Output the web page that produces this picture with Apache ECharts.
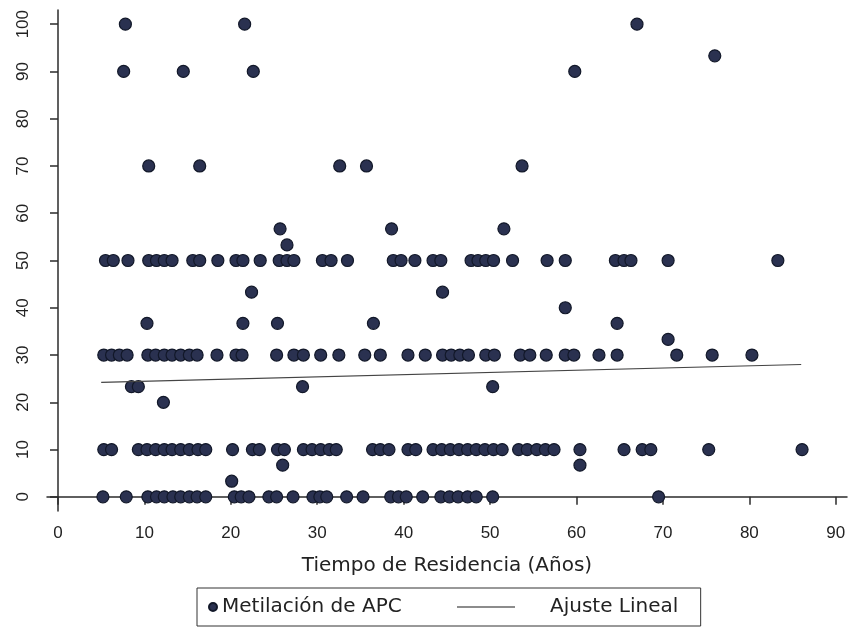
<!DOCTYPE html>
<html><head><meta charset="utf-8">
<script src="https://cdn.jsdelivr.net/npm/echarts@6/dist/echarts.min.js"></script>
<style>html,body{margin:0;padding:0;background:#fff}#c{width:849px;height:633px}</style>
</head><body><div id="c"></div>
<script>
// Tick labels
const xTicks = [0, 10, 20, 30, 40, 50, 60, 70, 80, 90];
const yTicks = [0, 10, 20, 30, 40, 50, 60, 70, 80, 90, 100];

// Metilación de APC levels (%) and the residence times (years) observed at each
const nivel_0 = [5.2, 7.9, 10.4, 11.4, 12.3, 13.3, 14.2, 15.2, 16.1, 17.1, 20.4, 21.2, 22.1, 24.4, 25.3, 27.2, 29.5, 30.3, 31.1, 33.4, 35.3, 38.5, 39.4, 40.3, 42.2, 44.3, 45.3, 46.3, 47.4, 48.4, 50.3, 69.5];
const nivel_3 = [20.1];
const nivel_7 = [26.0, 60.4];
const nivel_10 = [5.3, 6.2, 9.3, 10.3, 11.3, 12.3, 13.2, 14.2, 15.2, 16.2, 17.1, 20.2, 22.5, 23.3, 25.4, 26.2, 28.4, 29.4, 30.4, 31.4, 32.2, 36.4, 37.3, 38.3, 40.5, 41.4, 43.4, 44.4, 45.4, 46.4, 47.4, 48.4, 49.4, 50.4, 51.4, 53.3, 54.3, 55.4, 56.4, 57.4, 60.4, 65.5, 67.6, 68.6, 75.3, 86.1];
const nivel_20 = [12.2];
const nivel_23 = [8.5, 9.3, 28.3, 50.3];
const nivel_30 = [5.3, 6.2, 7.1, 8.0, 10.4, 11.3, 12.3, 13.2, 14.2, 15.2, 16.1, 18.4, 20.6, 21.3, 25.3, 27.3, 28.4, 30.4, 32.5, 35.5, 37.3, 40.5, 42.5, 44.5, 45.5, 46.5, 47.5, 49.5, 50.5, 53.5, 54.6, 56.5, 58.7, 59.7, 62.6, 64.7, 71.6, 75.7, 80.3];
const nivel_33 = [70.6];
const nivel_37 = [10.3, 21.4, 25.4, 36.5, 64.7];
const nivel_40 = [58.7];
const nivel_43 = [22.4, 44.5];
const nivel_50 = [5.5, 6.4, 8.1, 10.5, 11.4, 12.3, 13.2, 15.6, 16.4, 18.5, 20.6, 21.4, 23.4, 25.6, 26.5, 27.3, 30.6, 31.6, 33.5, 38.8, 39.7, 41.3, 43.4, 44.3, 47.8, 48.6, 49.5, 50.4, 52.6, 56.6, 58.7, 64.5, 65.5, 66.3, 70.6, 83.3];
const nivel_53 = [26.5];
const nivel_57 = [25.7, 38.6, 51.6];
const nivel_70 = [10.5, 16.4, 32.6, 35.7, 53.7];
const nivel_90 = [7.6, 14.5, 22.6, 59.8];
const nivel_93 = [76.0];
const nivel_100 = [7.8, 21.6, 67.0];

const niveles = [0, 3.3, 6.7, 10, 20, 23.3, 30, 33.3, 36.7, 40, 43.3, 50, 53.3, 56.7, 70, 90, 93.3, 100];
const tiemposPorNivel = [nivel_0, nivel_3, nivel_7, nivel_10, nivel_20, nivel_23, nivel_30, nivel_33, nivel_37, nivel_40, nivel_43, nivel_50, nivel_53, nivel_57, nivel_70, nivel_90, nivel_93, nivel_100];

// Linear fit end points
const ajusteX = [5, 86];
const ajusteY = [24.2, 28.0];

const puntos = [];
tiemposPorNivel.forEach((arr, i) => arr.forEach(t => puntos.push([t, niveles[i]])));
const ajuste = ajusteX.map((x, i) => [x, ajusteY[i]]);

const axisCol = '#2b2b2b';
const chart = echarts.init(document.getElementById('c'), null, {renderer: 'canvas'});
chart.setOption({
  backgroundColor: '#ffffff',
  animation: false,
  grid: {left: 47, top: 10, right: 2, bottom: 122, containLabel: false},
  xAxis: {
    type: 'value', min: -1.27, max: 91.3,
    name: 'Tiempo de Residencia (Años)', nameLocation: 'middle', nameGap: 45,
    nameTextStyle: {fontFamily: 'DejaVu Sans', fontSize: 20, color: '#222'},
    axisLine: {show: true, lineStyle: {color: axisCol, width: 1.5}},
    axisTick: {show: true, length: 8, customValues: xTicks, lineStyle: {color: axisCol, width: 1.5}},
    axisLabel: {customValues: xTicks, margin: 14, fontFamily: 'Liberation Sans', fontSize: 17, color: '#222'},
    splitLine: {show: false}
  },
  yAxis: {
    type: 'value', min: -3.0, max: 103,
    axisLine: {show: true, lineStyle: {color: axisCol, width: 1.5}},
    axisTick: {show: true, length: 8, customValues: yTicks, lineStyle: {color: axisCol, width: 1.5}},
    axisLabel: {customValues: yTicks, rotate: 90, margin: 15, fontFamily: 'Liberation Sans', fontSize: 17, color: '#222'},
    splitLine: {show: false}
  },
  legend: [
    {
      left: 197, top: 588, orient: 'horizontal',
      padding: [9, 299, 9, 11],
      itemWidth: 8, itemHeight: 8,
      borderColor: '#333', borderWidth: 1,
      textStyle: {fontFamily: 'DejaVu Sans', fontSize: 20, color: '#222'},
      data: [{name: 'Metilación de APC', icon: 'circle'}]
    },
    {
      left: 457, top: 588, orient: 'horizontal',
      padding: [9, 0, 9, 0],
      itemWidth: 58, itemHeight: 1.4, symbolKeepAspect: false,
      textStyle: {fontFamily: 'DejaVu Sans', fontSize: 20, color: '#222', padding: [0, 0, 0, 30]},
      data: [{name: 'Ajuste Lineal', icon: 'rect', itemStyle: {color: '#666'}}]
    }
  ],
  series: [
    {
      name: 'Metilación de APC', type: 'scatter', data: puntos,
      symbol: 'circle', symbolSize: 12,
      itemStyle: {color: '#2a3150', borderColor: '#121829', borderWidth: 1.2, opacity: 1}
    },
    {
      name: 'Ajuste Lineal', type: 'line', data: ajuste,
      symbol: 'none', lineStyle: {color: '#444', width: 1.2}, itemStyle: {color: '#666'}
    }
  ]
});
</script></body></html>
